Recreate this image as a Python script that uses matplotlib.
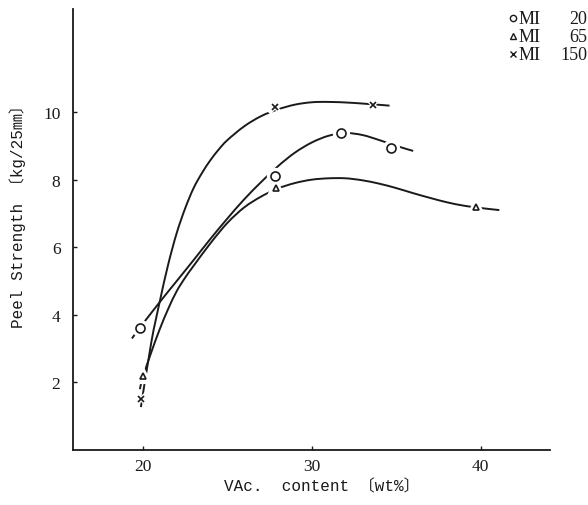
import matplotlib
matplotlib.use('Agg')
import matplotlib.pyplot as plt
from matplotlib.path import Path
from matplotlib.patches import PathPatch

# Peel strength against VAc. content for three melt index grades.

# measured points
mi20_x = [19.8, 27.8, 31.7, 34.7]
mi20_y = [3.62, 8.1, 9.38, 8.95]
mi65_x = [20.0, 27.9, 39.7]
mi65_y = [2.18, 7.76, 7.2]
mi150_x = [19.9, 27.8, 33.6]
mi150_y = [1.5, 10.15, 10.2]

# traced curves
curve20_x = [19.35, 19.82, 21.0, 22.0, 23.0, 24.0, 25.0, 26.0, 27.0, 28.0,
             29.0, 30.0, 31.0, 32.0, 33.0, 34.0, 35.0, 36.0]
curve20_y = [3.3, 3.62, 4.38, 5.0, 5.62, 6.25, 6.85, 7.42, 7.93, 8.4,
             8.8, 9.1, 9.3, 9.38, 9.32, 9.17, 9.0, 8.85]
curve65_x = [19.82, 20.0, 20.5, 21.0, 21.5, 22.0, 22.5, 23.0, 24.0, 25.0,
             26.0, 27.0, 28.0, 29.0, 30.0, 31.0, 32.0, 33.0, 34.0, 35.0,
             36.0, 37.0, 38.0, 39.0, 40.0, 41.1]
curve65_y = [1.8, 2.16, 2.9, 3.58, 4.18, 4.7, 5.1, 5.45, 6.12, 6.72,
             7.18, 7.5, 7.74, 7.9, 8.0, 8.04, 8.04, 7.98, 7.88, 7.75,
             7.6, 7.46, 7.33, 7.23, 7.16, 7.1]
curve150_x = [19.88, 20.5, 21.0, 21.5, 22.0, 22.5, 23.0, 23.5, 24.0, 24.5,
              25.0, 26.0, 27.0, 28.0, 29.0, 30.0, 31.0, 32.5, 34.6]
curve150_y = [1.27, 3.2, 4.4, 5.5, 6.42, 7.15, 7.75, 8.2, 8.58, 8.9,
              9.17, 9.58, 9.88, 10.08, 10.22, 10.29, 10.3, 10.27, 10.19]

x_ticks = [20, 30, 40]
y_ticks = [2, 4, 6, 8, 10]
legend_rows = [('o', 'MI', '20'), ('^', 'MI', '65'), ('x', 'MI', '150')]

serif = ['Liberation Serif', 'Noto Sans CJK JP']
mono = ['Liberation Mono', 'Noto Sans CJK JP']
ink = '#1a1a1a'


def smooth_path(xs, ys):
    # Catmull-Rom through the traced points, written as cubic bezier segments
    pts = list(zip(xs, ys))
    verts = [pts[0]]
    codes = [Path.MOVETO]
    for i in range(len(pts) - 1):
        p0 = pts[i - 1] if i > 0 else pts[i]
        p1 = pts[i]
        p2 = pts[i + 1]
        p3 = pts[i + 2] if i + 2 < len(pts) else pts[i + 1]
        c1 = (p1[0] + (p2[0] - p0[0]) / 6, p1[1] + (p2[1] - p0[1]) / 6)
        c2 = (p2[0] - (p3[0] - p1[0]) / 6, p2[1] - (p3[1] - p1[1]) / 6)
        verts += [c1, c2, p2]
        codes += [Path.CURVE4] * 3
    return Path(verts, codes)


def draw_series(ax, cx, cy, px, py, marker, size):
    # curve first, then markers with a white halo so the line looks broken
    ax.add_patch(PathPatch(smooth_path(cx, cy), facecolor='none', edgecolor=ink,
                           linewidth=1.4, zorder=2))
    ax.plot(px, py, linestyle='none', marker=marker, markersize=size + 3,
            markerfacecolor='white', markeredgecolor='white',
            markeredgewidth=3, zorder=3)
    ax.plot(px, py, linestyle='none', marker=marker, markersize=size,
            markerfacecolor='white', markeredgecolor=ink,
            markeredgewidth=1.2, zorder=4)


fig = plt.figure(figsize=(5.88, 5.06), dpi=100)
ax = fig.add_axes([73 / 588, 55 / 506, 477 / 588, 441 / 506])

draw_series(ax, curve20_x, curve20_y, mi20_x, mi20_y, 'o', 6.5)
draw_series(ax, curve65_x, curve65_y, mi65_x, mi65_y, '^', 5)
draw_series(ax, curve150_x, curve150_y, mi150_x, mi150_y, 'x', 5)

ax.set_xlim(15.86, 44.1)
ax.set_ylim(0, 13.05)
ax.spines['top'].set_visible(False)
ax.spines['right'].set_visible(False)
ax.spines['left'].set_linewidth(1.3)
ax.spines['bottom'].set_linewidth(1.3)
ax.spines['left'].set_color(ink)
ax.spines['bottom'].set_color(ink)

ax.set_xticks(x_ticks)
ax.set_yticks(y_ticks)
ax.tick_params(direction='in', length=3, width=1, colors=ink, labelsize=12.5)
ax.tick_params(axis='y', pad=9)
ax.tick_params(axis='x', pad=6)
for label in ax.get_xticklabels() + ax.get_yticklabels():
    label.set_family(serif)

# axis titles placed as figure text
fig.text(322 / 588, 1 - 487 / 506, 'VAc.  content 〔wt%〕', family=mono,
         fontsize=11.5, color=ink, ha='center', va='center')
fig.text(18 / 588, 1 - 213 / 506, 'Peel Strength 〔kg/25㎜〕', family=mono,
         fontsize=11.5, color=ink, ha='center', va='center', rotation=90)

# legend typed as text in the top right corner
for i, (marker, name, value) in enumerate(legend_rows):
    y = 1 - (19 + 18 * i) / 506
    fig.lines.append(plt.Line2D([513 / 588], [y], marker=marker, markersize=4.5,
                                markerfacecolor='white', markeredgecolor=ink,
                                markeredgewidth=1, transform=fig.transFigure))
    fig.text(519 / 588, y, name, family=serif, fontsize=13, color=ink, va='center')
    fig.text(587 / 588, y, value, family=serif, fontsize=13, color=ink,
             va='center', ha='right')

fig.savefig('out.png', dpi=100)
